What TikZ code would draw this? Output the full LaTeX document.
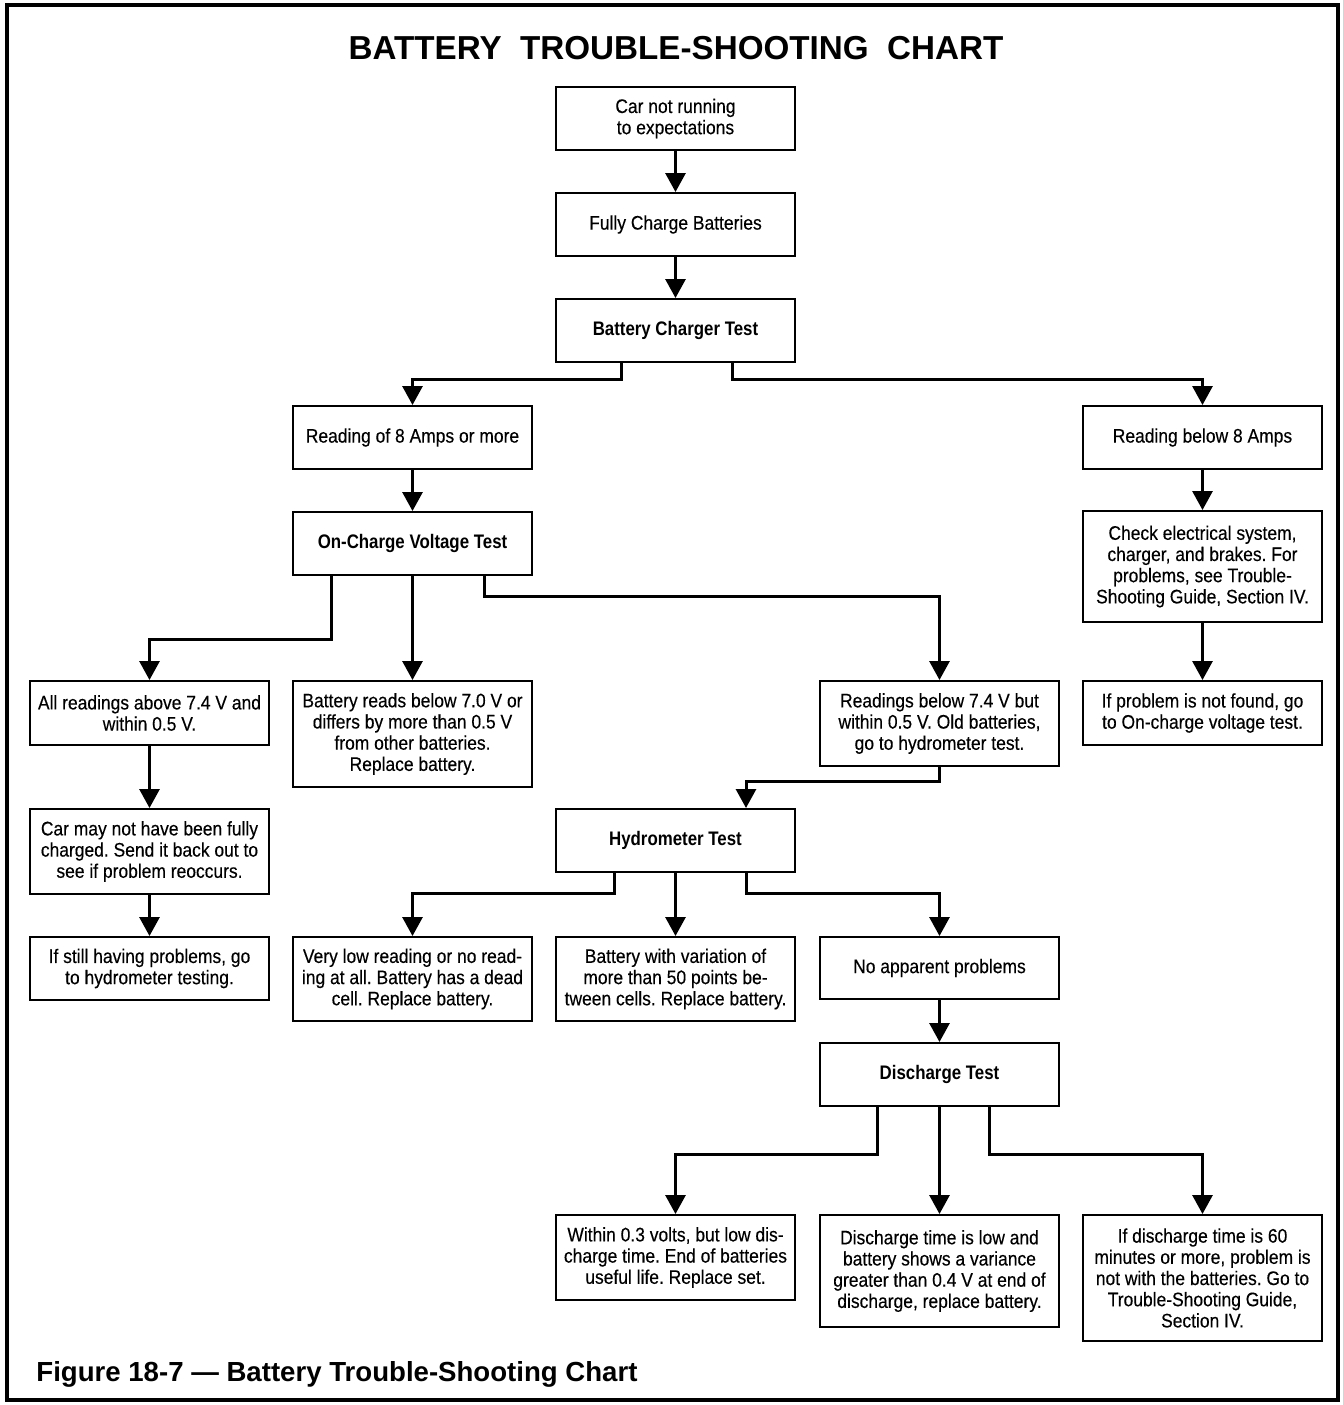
\documentclass[tikz,border=0pt]{standalone}
\usepackage{fontspec}
\setmainfont{Liberation Sans}[FakeStretch=0.89,FakeBold=0.3]
\newfontfamily\boxbold{Liberation Sans Bold}[FakeStretch=0.86]
\newfontfamily\titlefont{Liberation Sans}[Ligatures=TeX]
\frenchspacing
\usetikzlibrary{arrows.meta}
\begin{document}
\begin{tikzpicture}[x=0.5pt,y=-0.5pt,
  box/.style={draw, line width=1pt, anchor=north, minimum width=119.5pt, align=center, inner sep=2pt,
    font=\fontsize{9.8pt}{10.6pt}\selectfont},
  bbox/.style={box, font=\boxbold\fontsize{9.8pt}{10.6pt}\selectfont},
  conn/.style={line width=1.5pt, -{Triangle[width=10pt,length=9.5pt]}}]
\useasboundingbox (0,0) rectangle (1343,1405);
\draw[line width=2pt] (7,5) rectangle (1338,1400);
\node[font=\titlefont\fontsize{16.6pt}{20pt}\selectfont\bfseries] (title) at (676,48) {BATTERY\ \ TROUBLE-SHOOTING\ \ CHART};
\node[font=\titlefont\fontsize{13.8pt}{16pt}\selectfont\bfseries, anchor=base west, inner sep=0pt] (caption) at (36,1381) {Figure 18-7 --- Battery Trouble-Shooting Chart};
% nodes
\node[box, minimum height=31.5pt] (n1) at (675.5,86) {Car not running\\to expectations};
\node[box, minimum height=31.5pt] (n2) at (675.5,192) {Fully Charge Batteries};
\node[bbox, minimum height=31.5pt] (n3) at (675.5,298) {Battery Charger Test};
\node[box, minimum height=31.5pt] (n4) at (412.5,405) {Reading of 8 Amps or more};
\node[box, minimum height=31.5pt] (n5) at (1202.5,405) {Reading below 8 Amps};
\node[bbox, minimum height=31.5pt] (n6) at (412.5,511) {On-Charge Voltage Test};
\node[box, minimum height=55.5pt] (n7) at (1202.5,510) {Check electrical system,\\charger, and brakes. For\\problems, see Trouble-\\Shooting Guide, Section IV.};
\node[box, minimum height=32pt] (n8) at (149.5,680) {All readings above 7.4 V and\\within 0.5 V.};
\node[box, minimum height=53pt] (n9) at (412.5,680) {Battery reads below 7.0 V or\\differs by more than 0.5 V\\from other batteries.\\Replace battery.};
\node[box, minimum height=42.5pt] (n10) at (939.5,680) {Readings below 7.4 V but\\within 0.5 V. Old batteries,\\go to hydrometer test.};
\node[box, minimum height=32pt] (n11) at (1202.5,680) {If problem is not found, go\\to On-charge voltage test.};
\node[box, minimum height=42.5pt] (n12) at (149.5,808) {Car may not have been fully\\charged. Send it back out to\\see if problem reoccurs.};
\node[bbox, minimum height=31.5pt] (n13) at (675.5,808) {Hydrometer Test};
\node[box, minimum height=31.5pt] (n14) at (149.5,936) {If still having problems, go\\to hydrometer testing.};
\node[box, minimum height=42pt] (n15) at (412.5,936) {Very low reading or no read-\\ing at all. Battery has a dead\\cell. Replace battery.};
\node[box, minimum height=42pt] (n16) at (675.5,936) {Battery with variation of\\more than 50 points be-\\tween cells. Replace battery.};
\node[box, minimum height=31pt] (n17) at (939.5,936) {No apparent problems};
\node[bbox, minimum height=31.5pt] (n18) at (939.5,1042) {Discharge Test};
\node[box, minimum height=42.5pt] (n19) at (675.5,1214) {Within 0.3 volts, but low dis-\\charge time. End of batteries\\useful life. Replace set.};
\node[box, minimum height=56pt] (n20) at (939.5,1214) {Discharge time is low and\\battery shows a variance\\greater than 0.4 V at end of\\discharge, replace battery.};
\node[box, minimum height=63pt] (n21) at (1202.5,1214) {If discharge time is 60\\minutes or more, problem is\\not with the batteries. Go to\\Trouble-Shooting Guide,\\Section IV.};
% connectors
\draw[conn] (n1) -- (n2);
\draw[conn] (n2) -- (n3);
\draw[conn] ([xshift=-27.25pt]n3.south) -- ++(0,16) -| (n4.north);
\draw[conn] ([xshift=28.25pt]n3.south) -- ++(0,16) -| (n5.north);
\draw[conn] (n4) -- (n6);
\draw[conn] (n5) -- (n7);
\draw[conn] (n7) -- (n11);
\draw[conn] ([xshift=-40.75pt]n6.south) -- ++(0,63) -| (n8.north);
\draw[conn] (n6) -- (n9);
\draw[conn] ([xshift=35.75pt]n6.south) -- ++(0,20) -| (n10.north);
\draw[conn] (n8) -- (n12);
\draw[conn] (n12) -- (n14);
\draw[conn] (n10.south) -- ++(0,14) -| ([xshift=35.25pt]n13.north);
\draw[conn] ([xshift=-30.75pt]n13.south) -- ++(0,20) -| (n15.north);
\draw[conn] (n13) -- (n16);
\draw[conn] ([xshift=35.25pt]n13.south) -- ++(0,20) -| (n17.north);
\draw[conn] (n17) -- (n18);
\draw[conn] ([xshift=-31.25pt]n18.south) -- ++(0,47) -| (n19.north);
\draw[conn] (n18) -- (n20);
\draw[conn] ([xshift=24.75pt]n18.south) -- ++(0,47) -| (n21.north);
\end{tikzpicture}
\end{document}
